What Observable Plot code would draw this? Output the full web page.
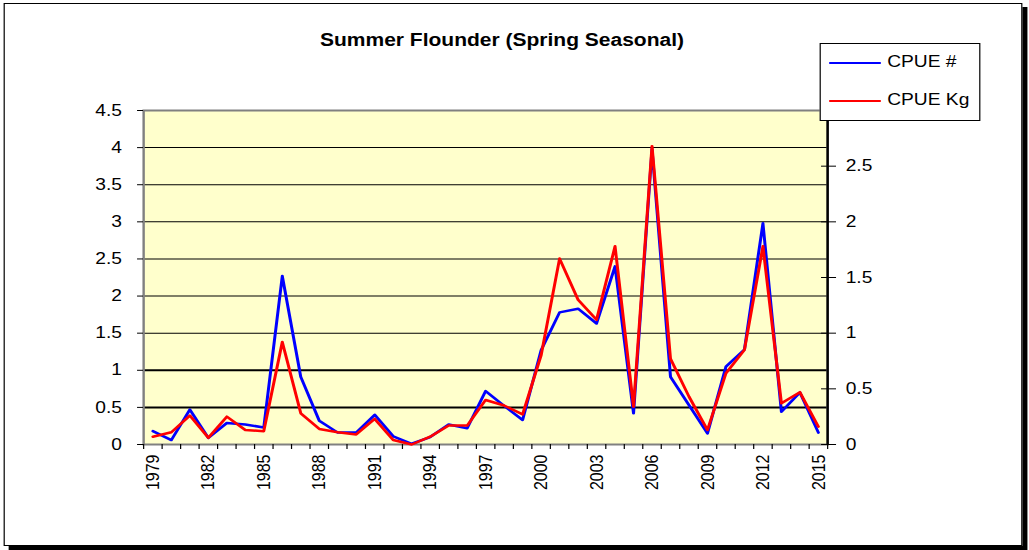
<!DOCTYPE html>
<html>
<head>
<meta charset="utf-8">
<script src="https://cdn.jsdelivr.net/npm/d3@7"></script>
<script src="https://cdn.jsdelivr.net/npm/@observablehq/plot@0.6"></script>
<style>
  html, body { margin: 0; padding: 0; background: #fff; overflow: hidden; }
  #wrap { position: relative; width: 857.5px; height: 550px; transform: scaleX(1.2); transform-origin: 0 0; font-family: "Liberation Sans", Arial, sans-serif; }
  #outer { position: absolute; left: 3.3px; top: 3px; width: 848.3px; height: 543px; box-sizing: border-box; border: 1px solid #000; box-shadow: 4.2px 4px 0 #000; background: #fff; }
  #title { position: absolute; left: 0; width: 836.7px; top: 32px; text-align: center; font-weight: bold; font-size: 17.5px; line-height: 1; color: #000; }
  #chart { position: absolute; left: 0; top: 0; }
  #legend { position: absolute; left: 683.3px; top: 43px; width: 133.3px; height: 78px; box-sizing: border-box; border: 1px solid #000; background: #fff; }
  .sw { position: absolute; left: 6.7px; width: 43.3px; height: 2.5px; }
  .lt { position: absolute; left: 55px; font-size: 16px; line-height: 16px; color: #000; white-space: nowrap; }
</style>
</head>
<body>
<div id="wrap">
  <div id="outer"></div>
  <div id="chart"></div>
  <div id="title"></div>
  <div id="legend"></div>
</div>
<script>
const title = "Summer Flounder (Spring Seasonal)";
const seriesNames = ["CPUE #", "CPUE Kg"];
const seriesColors = ["#0000ff", "#ff0000"];
const years = [1979,1980,1981,1982,1983,1984,1985,1986,1987,1988,1989,1990,1991,1992,1993,1994,1995,1996,1997,1998,1999,2000,2001,2002,2003,2004,2005,2006,2007,2008,2009,2010,2011,2012,2013,2014,2015];
const cpueNum = [0.18,0.06,0.47,0.09,0.29,0.27,0.23,2.27,0.91,0.32,0.16,0.16,0.40,0.11,0.01,0.10,0.27,0.22,0.72,0.52,0.33,1.27,1.78,1.83,1.63,2.40,0.42,3.98,0.91,0.53,0.15,1.05,1.28,2.98,0.44,0.70,0.16];
const cpueKg  = [0.07,0.11,0.26,0.06,0.25,0.13,0.12,0.92,0.28,0.14,0.11,0.09,0.23,0.04,0.00,0.07,0.17,0.17,0.40,0.35,0.27,0.80,1.67,1.30,1.12,1.78,0.34,2.68,0.77,0.43,0.13,0.64,0.85,1.78,0.37,0.47,0.16];
const leftTicks = [0,0.5,1,1.5,2,2.5,3,3.5,4,4.5];
const rightTicks = [0,0.5,1,1.5,2,2.5];
const yearLabels = [1979,1982,1985,1988,1991,1994,1997,2000,2003,2006,2009,2012,2015];
const leftMax = 4.5, rightMax = 3;
const ratio = leftMax / rightMax;

const data = years.map((y, i) => ({year: y, num: cpueNum[i], kg: cpueKg[i]}));
const boundaries = years.map(y => y - 0.5).concat([years[years.length - 1] + 0.5]);
const thinGrid = [1.5,2,2.5,3,3.5,4];
const thickGrid = [0.5,1];

const chart = Plot.plot({
  width: 857.5,
  height: 550,
  marginLeft: 119.2,
  marginRight: 168.3,
  marginTop: 110,
  marginBottom: 106,
  x: {type: "linear", domain: [boundaries[0], boundaries[boundaries.length - 1]], label: null},
  y: {domain: [0, leftMax], label: null},
  style: {background: "transparent", fontFamily: "'Liberation Sans', Arial, sans-serif", fontSize: "16px", color: "#000", overflow: "visible"},
  marks: [
    Plot.frame({fill: "#ffffcc"}),
    Plot.gridY(thinGrid, {stroke: "#000", strokeOpacity: 1, strokeWidth: 1}),
    Plot.gridY(thickGrid, {stroke: "#000", strokeOpacity: 1, strokeWidth: 2}),
    Plot.frame({stroke: "#808080", strokeWidth: 2}),
    Plot.ruleX([boundaries[boundaries.length - 1]], {stroke: "#000", strokeWidth: 2}),
    Plot.axisY(leftTicks, {anchor: "left", label: null, tickSize: 5, tickPadding: 13, tickFormat: d => String(d)}),
    Plot.axisY(rightTicks.map(v => v * ratio), {anchor: "right", label: null, tickSize: 12.5, dx: -6, tickFormat: () => ""}),
    Plot.axisY(rightTicks.map(v => v * ratio), {anchor: "right", label: null, tickSize: 0, tickPadding: 15, tickFormat: d => String(+(d / ratio).toFixed(2))}),
    Plot.axisX(boundaries, {anchor: "bottom", label: null, tickSize: 5, tickFormat: () => ""}),
    Plot.axisX(yearLabels, {anchor: "bottom", label: null, tickSize: 0, tickPadding: 10, tickRotate: -90, tickFormat: d => String(d)}),
    Plot.line(data, {x: "year", y: "num", stroke: seriesColors[0], strokeWidth: 2.5}),
    Plot.line(data, {x: "year", y: d => d.kg * ratio, stroke: seriesColors[1], strokeWidth: 2.5})
  ]
});
document.getElementById("chart").appendChild(chart);
document.getElementById("title").textContent = title;

const legend = document.getElementById("legend");
const rowY = [19, 57];
seriesNames.forEach((name, i) => {
  const sw = document.createElement("div");
  sw.className = "sw";
  sw.style.top = (rowY[i] - 1.25) + "px";
  sw.style.background = seriesColors[i];
  legend.appendChild(sw);
  const t = document.createElement("div");
  t.className = "lt";
  t.style.top = (rowY[i] - 8.7) + "px";
  t.textContent = name;
  legend.appendChild(t);
});
</script>
</body>
</html>
